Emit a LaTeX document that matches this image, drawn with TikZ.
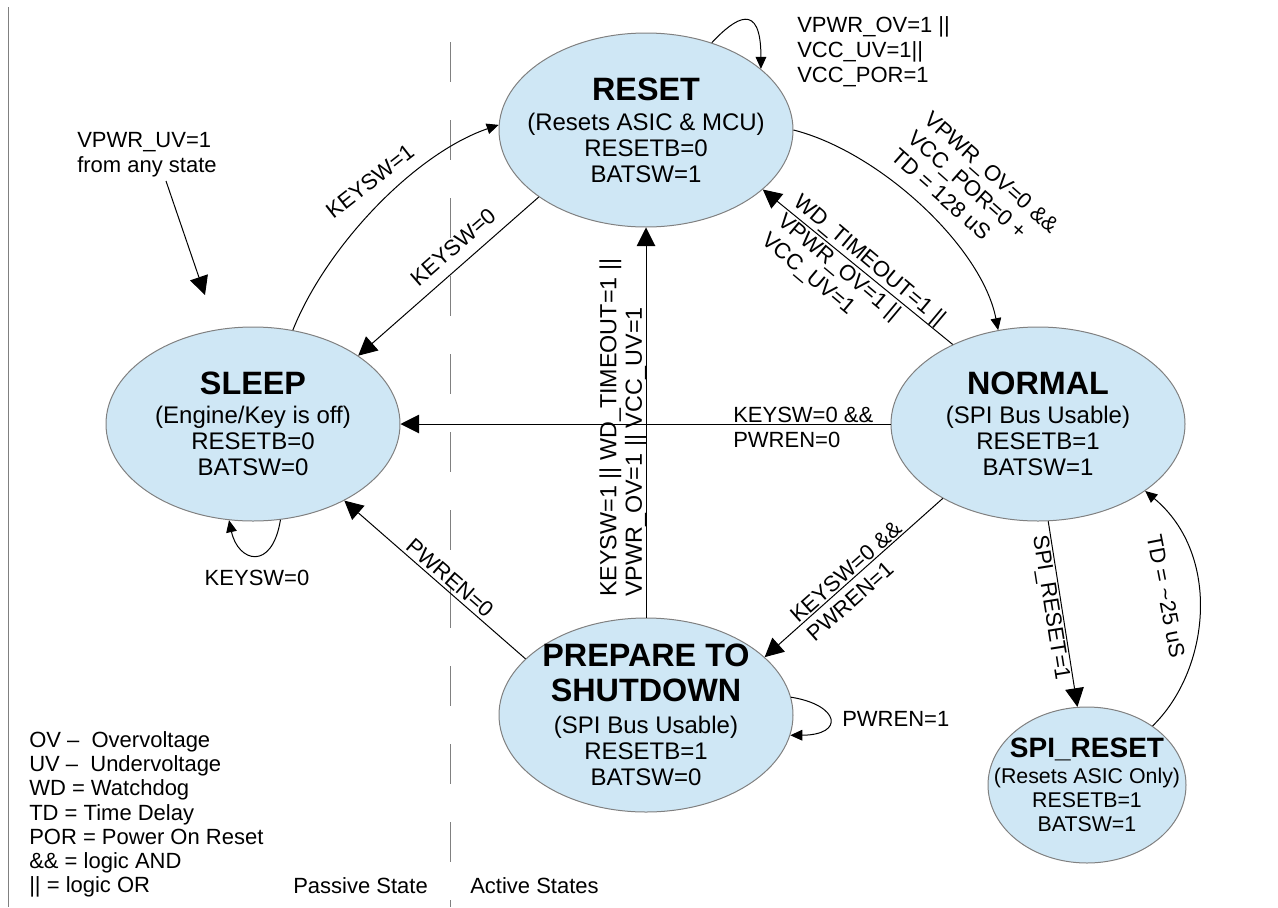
\documentclass[tikz,border=0pt]{standalone}
\usepackage{fontspec}
\setmainfont{Liberation Sans}
\usepackage{tikz}
\usetikzlibrary{arrows.meta, shapes}

\newcommand{\statetitle}[1]{{\fontsize{24.25pt}{26pt}\selectfont\bfseries #1}}
\newcommand{\spititle}[1]{{\fontsize{21pt}{24pt}\selectfont\bfseries #1}}

\begin{document}
\begin{tikzpicture}[x=0.75pt,y=0.75pt,yscale=-1,xscale=1,
  state/.style={ellipse, draw={rgb, 255:red, 128; green, 128; blue, 128 }, line width=0.75, fill={rgb, 255:red, 207; green, 231; blue, 245 }, minimum width=220.5pt, minimum height=145.5pt, inner sep=0pt},
  spistate/.style={state, minimum width=148.5pt, minimum height=117pt},
  statetext/.style={align=center, inner sep=0pt, font=\fontsize{18pt}{19.5pt}\selectfont},
  spitext/.style={align=center, inner sep=0pt, font=\fontsize{16pt}{18pt}\selectfont},
  cond/.style={align=left, inner sep=0pt, font=\fontsize{16.5pt}{18.75pt}\selectfont},
  bigtip/.style={-{Triangle[length=14pt,width=14pt]}, line width=0.75},
  smalltip/.style={-{Triangle[length=9pt,width=8pt]}, line width=0.75},
  divider/.style={draw={rgb, 255:red, 128; green, 128; blue, 128 }, line width=0.75}]
\useasboundingbox (0,0) rectangle (1278,907);

%Straight Lines [id:divider]
\draw [divider] (8,7) -- (8,907) ;
\draw [divider, dash pattern={on 30pt off 28.5pt}] (450,42) -- (450,907) ;

%Shape: Ellipse [id:reset]
\node [state] (reset) at (646,130) {};
%Shape: Ellipse [id:sleep]
\node [state] (sleep) at (253,424) {};
%Shape: Ellipse [id:normal]
\node [state] (normal) at (1038,424) {};
%Shape: Ellipse [id:prepare]
\node [state] (prepare) at (646,715) {};
%Shape: Ellipse [id:spireset]
\node [spistate] (spireset) at (1087,785) {};

%Curve Lines [id:keyon]
\draw [smalltip] (sleep.67) .. controls (326,247) and (414,154) .. (reset.178) ;
%Straight Lines [id:keyoff]
\draw [bigtip] (reset.212) -- (sleep.33) ;
%Straight Lines [id:uv]
\coordinate (uvfrom) at (166,181) ;
\coordinate (uvto) at (205,295) ;
\draw [bigtip] (uvfrom) -- (uvto) ;
%Curve Lines [id:resetloop]
\draw [smalltip] (reset.53) .. controls (735,18) and (761,0) .. (reset.28) ;
%Curve Lines [id:resettonormal]
\draw [smalltip] (reset.east) .. controls (880,152) and (982,247) .. (normal.113) ;
%Straight Lines [id:normaltoreset]
\draw [bigtip] (normal.137) -- (reset.-27) ;
%Straight Lines [id:normaltosleep]
\draw [bigtip] (normal.west) -- (sleep.east) ;
%Straight Lines [id:preparetoreset]
\draw [bigtip] (prepare.north) -- (reset.south) ;
%Straight Lines [id:normaltoprepare]
\draw [bigtip] (normal.218) -- (prepare.26) ;
%Straight Lines [id:preparetosleep]
\draw [bigtip] (prepare.155) -- (sleep.-40) ;
%Curve Lines [id:sleeploop]
\draw [smalltip] (sleep.-74) .. controls (272,572) and (238,562) .. (sleep.-104) ;
%Curve Lines [id:prepareloop]
\draw [smalltip] (prepare.7) .. controls (840,705) and (845,735) .. (prepare.-8) ;
%Straight Lines [id:normaltospi]
\draw [bigtip] (normal.-84) -- (spireset.97) ;
%Curve Lines [id:spitonormal]
\draw [smalltip] (spireset.42) .. controls (1210,670) and (1222,555) .. (normal.-32) ;

% Text Node
\node [statetext] (resettext) at (reset) {\statetitle{RESET}\\[3pt] (Resets ASIC \& MCU)\\ RESETB=0\\ BATSW=1};
% Text Node
\node [statetext] (sleeptext) at (sleep) {\statetitle{SLEEP}\\[2.5pt] (Engine/Key is off)\\ RESETB=0\\ BATSW=0};
% Text Node
\node [statetext] (normaltext) at (normal) {\statetitle{NORMAL}\\[2.5pt] (SPI Bus Usable)\\ RESETB=1\\ BATSW=1};
% Text Node
\node [statetext] (preparetext) at (prepare) {\statetitle{PREPARE TO}\\[6.75pt] \statetitle{SHUTDOWN}\\[4.5pt] (SPI Bus Usable)\\ RESETB=1\\ BATSW=0};
% Text Node
\node [spitext] (spitext) at (spireset) {\spititle{SPI\_RESET}\\[1.5pt] (Resets ASIC Only)\\ RESETB=1\\ BATSW=1};

% Text Node
\node [cond, anchor=north west] (uvnote) at (77,132) {VPWR\_UV=1\\ from any state};
% Text Node
\node [cond, rotate=38] (keyoncond) at (370,181) {KEYSW=1};
% Text Node
\node [cond, rotate=41] (keyoffcond) at (453,247) {KEYSW=0};
% Text Node
\node [cond, anchor=north west] (ovnote) at (797,16) {VPWR\_OV=1 ||\\ VCC\_UV=1||\\ VCC\_POR=1};
% Text Node
\node [cond, rotate=-41.5] (porcond) at (975,191) {VPWR\_OV=0 \&\&\\ VCC\_POR=0 +\\ TD = 128 uS};
% Text Node
\node [cond, rotate=-40] (wdcond) at (853,280) {WD\_TIMEOUT=1 ||\\ VPWR\_OV=1 ||\\ VCC\_UV=1};
% Text Node
\node [cond, anchor=north west] (offcond) at (733,407) {KEYSW=0 \&\&\\ PWREN=0};
% Text Node
\node [cond, rotate=90, anchor=south west, font=\fontsize{17.5pt}{19pt}\selectfont] (wakecond) at (647,597) {KEYSW=1 || WD\_TIMEOUT=1 ||\\ VPWR\_OV=1 || VCC\_UV=1};
% Text Node
\node [cond, rotate=41.5] (shutcond) at (854,581) {KEYSW=0 \&\&\\ PWREN=1};
% Text Node
\node [cond, rotate=-41] (pwrencond) at (450,578) {PWREN=0};
% Text Node
\node [cond, anchor=base] (sleeploop) at (257,585) {KEYSW=0};
% Text Node
\node [cond, anchor=base west] (preploop) at (842,726) {PWREN=1};
% Text Node
\node [cond, rotate=-81] (spicond) at (1050,608) {SPI\_RESET=1};
% Text Node
\node [cond, rotate=-79] (tdcond) at (1166,596) {TD = \textasciitilde25 uS};
% Text Node
\node [cond, anchor=north west, font=\fontsize{16.5pt}{18.2pt}\selectfont] (legend) at (29,731) {OV --\ \ Overvoltage\\ UV --\ \ Undervoltage\\ WD = Watchdog\\ TD = Time Delay\\ POR = Power On Reset\\ \&\& = logic AND\\ || = logic OR};
% Text Node
\node [cond, anchor=base west] (passive) at (293,893) {Passive State};
% Text Node
\node [cond, anchor=base west] (active) at (470,893) {Active States};

\end{tikzpicture}
\end{document}
